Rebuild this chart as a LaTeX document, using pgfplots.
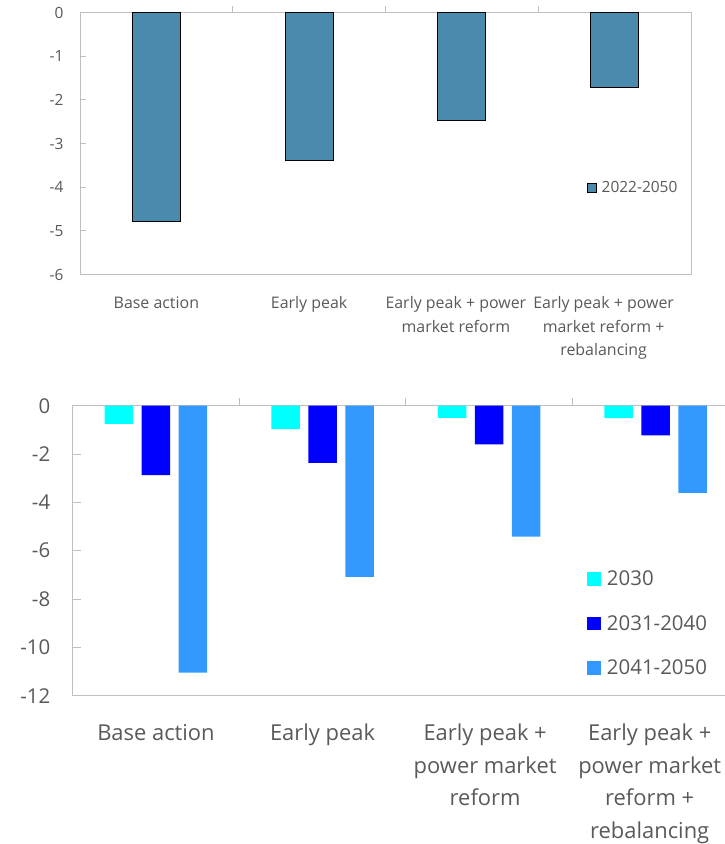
\documentclass[border=0pt]{standalone}
\usepackage{pgfplots}
\pgfplotsset{compat=1.18}
\usepackage{fontspec}
\setmainfont{Open Sans}
\definecolor{txt}{HTML}{595959}
\definecolor{axgrey}{HTML}{BFBFBF}
\definecolor{steel}{HTML}{4A8AAC}
\definecolor{cyanb}{HTML}{00FFFF}
\definecolor{blueb}{HTML}{0000FF}
\definecolor{dodger}{HTML}{3399FF}
\begin{document}
\begin{tikzpicture}
\useasboundingbox (0bp,0bp) rectangle (725bp,844bp);
% ---------- top chart ----------
\begin{axis}[
  at={(80bp,569.5bp)}, anchor=south west,
  scale only axis, width=611bp, height=262bp,
  ymin=-6, ymax=0, xmin=-0.5, xmax=3.5,
  ytick={-6,-5,-4,-3,-2,-1,0},
  xtick={0,1,2,3},
  xticklabels={Base action, Early peak, {Early peak + power\\market reform}, {Early peak + power\\market reform +\\rebalancing}},
  minor xtick={0.5,1.5,2.5},
  major x tick style={draw=none},
  xtick pos=right, xticklabel pos=left,
  ytick pos=left,
  tick align=inside,
  major tick length=6bp, minor tick length=6bp,
  tick style={axgrey, line width=0.8bp},
  axis line style={axgrey, line width=1bp},
  /pgf/number format/assume math mode=true,
  yticklabel style={font=\fontsize{15.5}{18}\selectfont, text=txt, xshift=-13bp},
  x tick label style={font=\fontsize{16}{23.5}\selectfont, text=txt, align=center, yshift=-12.5bp,
    xshift={(\ticknum==2)*(-6bp)+(\ticknum==3)*(-11bp)}},
  ybar, bar width=48bp,
  legend style={at={(0.829,0.330)}, anchor=west, draw=none, fill=none, inner sep=0pt,
    font=\fontsize{15.5}{18}\selectfont, text=txt},
  legend image code/.code={\draw[#1, line width=1bp] (0bp,-4.6bp) rectangle (9.3bp,4.6bp); \path[draw=none,fill=none] (0bp,0bp) -- (12.5bp,0bp);},
]
\addplot[fill=steel, draw=black, line width=1bp] coordinates {(0,-4.79) (1,-3.40) (2,-2.47) (3,-1.72)};
\addlegendentry{2022-2050}
\end{axis}
% ---------- bottom chart ----------
\begin{axis}[
  at={(72.7bp,148.3bp)}, anchor=south west,
  scale only axis, width=666.3bp, height=290bp,
  ymin=-12, ymax=0, xmin=-0.5, xmax=3.5,
  ytick={-12,-10,-8,-6,-4,-2,0},
  xtick={0,1,2,3},
  xticklabels={Base action, Early peak, {Early peak +\\power market\\reform}, {Early peak +\\power market\\reform +\\rebalancing}},
  minor xtick={0.5,1.5,2.5},
  major x tick style={draw=none},
  xtick pos=right, xticklabel pos=left,
  ytick pos=left,
  tick align=inside,
  major tick length=8bp, minor tick length=8bp,
  tick style={axgrey, line width=0.8bp},
  axis line style={axgrey, line width=1bp},
  /pgf/number format/assume math mode=true,
  yticklabel style={font=\fontsize{20.5}{24}\selectfont, text=txt, xshift=-19bp},
  x tick label style={font=\fontsize{22}{32.5}\selectfont, text=txt, align=center, yshift=-17bp,
    xshift={(\ticknum==2)*(-4bp)+(\ticknum==3)*(-6bp)}},
  ybar=8.5bp, bar width=28.5bp,
  legend style={at={(0.7723,0.437)}, anchor=north west, draw=none, fill=none, inner sep=0pt,
    row sep=24bp, font=\fontsize{20.5}{24}\selectfont, text=txt},
  legend cell align=left,
  legend image code/.code={\fill[#1] (0bp,-6.85bp) rectangle (13.7bp,6.85bp); \path[draw=none,fill=none] (0bp,0bp) -- (17.5bp,0bp);},
]
\addplot[fill=cyanb, draw=none] coordinates {(0,-0.75) (1,-0.97) (2,-0.50) (3,-0.51)};
\addlegendentry{2030}
\addplot[fill=blueb, draw=none] coordinates {(0,-2.87) (1,-2.37) (2,-1.60) (3,-1.23)};
\addlegendentry{2031-2040}
\addplot[fill=dodger, draw=none] coordinates {(0,-11.05) (1,-7.08) (2,-5.42) (3,-3.61)};
\addlegendentry{2041-2050}
\end{axis}
\end{tikzpicture}
\end{document}
